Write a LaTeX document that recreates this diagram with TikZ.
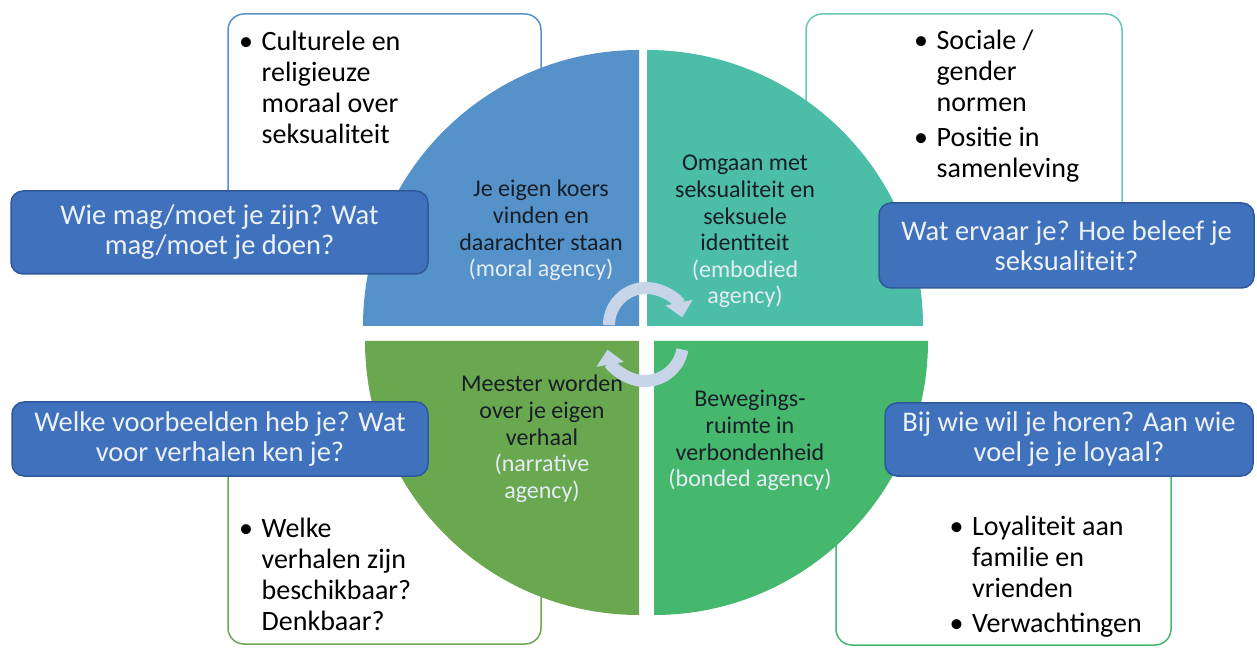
\documentclass[tikz,border=0pt]{standalone}
\usepackage{fontspec}
\setmainfont{Carlito}
\usetikzlibrary{arrows.meta}

\definecolor{moreel}{RGB}{84,146,201}
\definecolor{belichaamd}{RGB}{76,190,168}
\definecolor{verhalend}{RGB}{106,168,80}
\definecolor{verbonden}{RGB}{70,184,110}
\definecolor{vraagblauw}{RGB}{63,113,189}
\definecolor{vraagrand}{RGB}{47,88,156}
\definecolor{vraagtekst}{RGB}{236,241,248}
\definecolor{kerntekst}{RGB}{24,30,40}
\definecolor{agencytekst}{RGB}{228,236,245}
\definecolor{pijlkleur}{RGB}{200,212,232}

\tikzset{
  kader/.style={line width=1.5pt, rounded corners=16pt, fill=white},
  vraag/.style={draw=vraagrand, fill=vraagblauw, line width=1.5pt, rounded corners=12pt,
    text=vraagtekst, align=center, inner sep=0pt, font=\fontsize{28.5}{30}\selectfont},
  kern/.style={anchor=base, inner sep=0pt, text=kerntekst, font=\fontsize{24}{26.6}\selectfont},
  lijst/.style={anchor=base west, inner sep=0pt, text=black, font=\fontsize{28}{31}\selectfont},
  pijl/.style={draw=pijlkleur, line width=12pt, -{Triangle[width=27pt,length=15pt]}},
}
\newcommand{\ag}[1]{\textcolor{agencytekst}{#1}}

\begin{document}
\begin{tikzpicture}[x=1pt, y=1pt]
  \useasboundingbox[fill=white] (0, 0) rectangle (1257, 648);

  % kaders achter de cirkel
  \draw[kader, draw=moreel] (228, 634) rectangle (541, 398);
  \draw[kader, draw=belichaamd!85] (806, 634) rectangle (1122, 398);
  \draw[kader, draw=verhalend] (228, 218) rectangle (541, 4);
  \draw[kader, draw=verbonden] (836, 218) rectangle (1171, 3);

  % vier kwarten
  \fill[moreel] (639, 322) -- (363, 322) arc[start angle=180, end angle=90, radius=276] -- cycle;
  \fill[belichaamd] (647, 322) -- (647, 598) arc[start angle=90, end angle=0, radius=276] -- cycle;
  \fill[verhalend] (639, 307) -- (365, 307) arc[start angle=180, end angle=270, radius=274] -- cycle;
  \fill[verbonden] (654, 307) -- (654, 33) arc[start angle=270, end angle=360, radius=274] -- cycle;

  % draaiende pijlen
  \draw[pijl] (609, 323) arc[start angle=180, end angle=12, radius=37];
  \draw[pijl] (682.4, 298.4) arc[start angle=-10, end angle=-170, radius=38];

  % vragen
  \node[vraag, minimum width=417, minimum height=83] (vraagmoreel) at (219.5, 415.5)
    {Wie mag/moet je zijn? Wat\\ mag/moet je doen?};
  \node[vraag, minimum width=375, minimum height=85] (vraagbelichaamd) at (1066.5, 402.5)
    {Wat ervaar je? Hoe beleef je\\ seksualiteit?};
  \node[vraag, minimum width=416, minimum height=74] (vraagverhalend) at (220, 209)
    {Welke voorbeelden heb je? Wat\\ voor verhalen ken je?};
  \node[vraag, minimum width=368, minimum height=73] (vraagverbonden) at (1069, 208.5)
    {Bij wie wil je horen? Aan wie\\ voel je je loyaal?};

  % kern van elk kwart
  \node[kern] (kernmoreel) at (541, 451) {\begin{tabular}[t]{@{}c@{}}
    Je eigen koers\\ vinden en\\ daarachter staan\\ \ag{(moral agency)}\end{tabular}};
  \node[kern] (kernbelichaamd) at (745, 477) {\begin{tabular}[t]{@{}c@{}}
    Omgaan met\\ seksualiteit en\\ seksuele\\ identiteit\\ \ag{(embodied}\\ \ag{agency)}\end{tabular}};
  \node[kern] (kernverhalend) at (542, 256) {\begin{tabular}[t]{@{}c@{}}
    Meester worden\\ over je eigen\\ verhaal\\ \ag{(narrative}\\ \ag{agency)}\end{tabular}};
  \node[kern] (kernverbonden) at (750, 241) {\begin{tabular}[t]{@{}c@{}}
    Bewegings-\\ ruimte in\\ verbondenheid\\ \ag{(bonded agency)}\end{tabular}};

  % opsommingen
  \node[lijst] (lijstmoreel) at (239, 597) {\begin{tabular}[t]{@{}l@{\hspace{8.5pt}}l@{}}
    \textbullet & Culturele en\\ & religieuze\\ & moraal over\\ & seksualiteit\end{tabular}};
  \node[lijst] (lijstbelichaamd) at (914, 598) {\begin{tabular}[t]{@{}l@{\hspace{8.5pt}}l@{}}
    \textbullet & Sociale /\\ & gender\\ & normen\\[4pt] \textbullet & Positie in\\ & samenleving\end{tabular}};
  \node[lijst] (lijstverhalend) at (239, 111) {\begin{tabular}[t]{@{}l@{\hspace{8.5pt}}l@{}}
    \textbullet & Welke\\ & verhalen zijn\\ & beschikbaar?\\ & Denkbaar?\end{tabular}};
  \node[lijst] (lijstverbonden) at (949.5, 113) {\begin{tabular}[t]{@{}l@{\hspace{8.5pt}}l@{}}
    \textbullet & Loyaliteit aan\\ & familie en\\ & vrienden\\[4pt] \textbullet & Verwachtingen\end{tabular}};
\end{tikzpicture}
\end{document}
